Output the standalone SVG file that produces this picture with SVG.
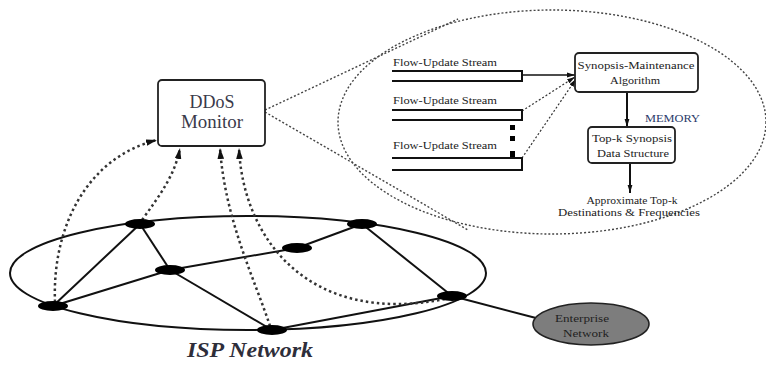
<svg xmlns="http://www.w3.org/2000/svg" width="766" height="365" viewBox="0 0 766 365">
  <style>
    .serif { font-family: "Liberation Serif", "DejaVu Serif", serif; }
    .edge { stroke: #111; stroke-width: 2; fill: none; }
    .report { stroke: #333; stroke-width: 2.5; stroke-dasharray: 2.5 3; fill: none; }
    .zoom { stroke: #444; stroke-width: 1.4; stroke-dasharray: 2 2; fill: none; }
    .pipe { stroke: #111; stroke-width: 2; fill: none; }
    .router { fill: #000; }
    .box { fill: #fff; stroke: #222; stroke-width: 1.8; }
    .small { font-size: 10px; fill: #222; }
  </style>
  <defs>
    <marker id="ah" viewBox="0 0 10 6" refX="10" refY="3" markerWidth="11" markerHeight="7" markerUnits="userSpaceOnUse" orient="auto">
      <path d="M0,0 L10,3 L0,6 z" fill="#111"/>
    </marker>
    <marker id="ahs" viewBox="0 0 10 6" refX="10" refY="3" markerWidth="8" markerHeight="6" markerUnits="userSpaceOnUse" orient="auto">
      <path d="M0,0 L10,3 L0,6 z" fill="#111"/>
    </marker>
  </defs>

  <rect width="766" height="365" fill="#fff"/>

  <!-- magnified view of the monitor internals -->
  <g id="zoom-view">
    <ellipse class="zoom" cx="552" cy="122" rx="214" ry="112"/>
    <line class="zoom" x1="265" y1="110" x2="458" y2="19"/>
    <line class="zoom" x1="265" y1="112" x2="468" y2="230"/>
  </g>

  <!-- ISP backbone ring -->
  <ellipse id="isp-ring" cx="248" cy="273" rx="238" ry="57" fill="none" stroke="#111" stroke-width="2"/>

  <!-- connectors -->
  <g id="connectors">
    <line class="edge" x1="53" y1="306" x2="140" y2="224"/>
    <line class="edge" x1="53" y1="306" x2="170" y2="270"/>
    <line class="edge" x1="140" y1="224" x2="170" y2="270"/>
    <line class="edge" x1="170" y1="270" x2="297" y2="248"/>
    <line class="edge" x1="297" y1="248" x2="362" y2="224"/>
    <line class="edge" x1="170" y1="270" x2="272" y2="330"/>
    <line class="edge" x1="362" y1="224" x2="452" y2="296"/>
    <line class="edge" x1="272" y1="330" x2="452" y2="296"/>
    <line class="edge" x1="452" y1="296" x2="536" y2="318" stroke-width="1.6"/>

    <!-- flow reports to the monitor -->
    <path class="report" d="M55,302 C52,230 85,158 157,140" marker-end="url(#ah)"/>
    <path class="report" d="M142,220 C160,195 175,175 180,148" marker-end="url(#ah)"/>
    <path class="report" d="M270,326 C255,280 225,220 220,148" marker-end="url(#ah)"/>
    <path class="report" d="M445,299 C310,326 243,240 239,148" marker-end="url(#ah)"/>

    <!-- internal data flow -->
    <line x1="522" y1="75" x2="575" y2="75" stroke="#111" stroke-width="1.6" marker-end="url(#ahs)"/>
    <line x1="522" y1="111" x2="575" y2="77" stroke="#333" stroke-width="1.2" stroke-dasharray="2 2" marker-end="url(#ahs)"/>
    <line x1="522" y1="158" x2="576" y2="79" stroke="#333" stroke-width="1.2" stroke-dasharray="2 2" marker-end="url(#ahs)"/>
    <line x1="627" y1="92" x2="627" y2="127" stroke="#111" stroke-width="2" marker-end="url(#ahs)"/>
    <line x1="630" y1="163" x2="630" y2="193" stroke="#111" stroke-width="2" marker-end="url(#ahs)"/>
  </g>

  <!-- routers -->
  <g id="router-1"><ellipse class="router" cx="140" cy="224" rx="15" ry="5"/></g>
  <g id="router-2"><ellipse class="router" cx="362" cy="224" rx="15" ry="5"/></g>
  <g id="router-3"><ellipse class="router" cx="297" cy="248" rx="15" ry="5"/></g>
  <g id="router-4"><ellipse class="router" cx="170" cy="270" rx="15" ry="5"/></g>
  <g id="router-5"><ellipse class="router" cx="53" cy="306" rx="15" ry="5"/></g>
  <g id="router-6"><ellipse class="router" cx="272" cy="330" rx="15" ry="5"/></g>
  <g id="router-7"><ellipse class="router" cx="452" cy="296" rx="15" ry="5"/></g>

  <!-- monitor -->
  <g id="ddos-monitor">
    <rect class="box" x="158" y="80" width="107" height="66" rx="4"/>
    <text class="serif" x="212" y="108" font-size="18" fill="#3a3a4a" text-anchor="middle">DDoS</text>
    <text class="serif" x="212" y="128" font-size="18" fill="#3a3a4a" text-anchor="middle" textLength="62" lengthAdjust="spacingAndGlyphs">Monitor</text>
  </g>

  <!-- enterprise network -->
  <g id="enterprise">
    <ellipse cx="591" cy="324" rx="58" ry="21" fill="#7d7d7d" stroke="#222" stroke-width="1.6"/>
    <text class="serif small" x="582" y="322" text-anchor="middle" textLength="54" lengthAdjust="spacingAndGlyphs">Enterprise</text>
    <text class="serif small" x="586" y="337" text-anchor="middle" textLength="46" lengthAdjust="spacingAndGlyphs">Network</text>
  </g>

  <!-- update streams -->
  <g id="stream-1">
    <path class="pipe" d="M392,71 H522 V81 H392"/>
    <text class="serif small" x="393" y="66" textLength="104" lengthAdjust="spacingAndGlyphs">Flow-Update Stream</text>
  </g>
  <g id="stream-2">
    <path class="pipe" d="M392,110 H522 V120 H392"/>
    <text class="serif small" x="393" y="104" textLength="104" lengthAdjust="spacingAndGlyphs">Flow-Update Stream</text>
  </g>
  <g id="stream-3">
    <path class="pipe" d="M392,158 H522 V170 H392"/>
    <text class="serif small" x="393" y="149" textLength="104" lengthAdjust="spacingAndGlyphs">Flow-Update Stream</text>
    <rect x="510" y="125" width="5" height="5" fill="#000"/>
    <rect x="510" y="136" width="5" height="5" fill="#000"/>
    <rect x="510" y="151" width="5" height="6" fill="#000"/>
  </g>

  <g id="maintenance">
    <rect class="box" x="575" y="53" width="123" height="39" rx="4"/>
    <text class="serif small" x="636" y="69" text-anchor="middle" textLength="117" lengthAdjust="spacingAndGlyphs">Synopsis-Maintenance</text>
    <text class="serif small" x="635" y="84" text-anchor="middle" textLength="50" lengthAdjust="spacingAndGlyphs">Algorithm</text>
  </g>

  <text class="serif" x="645" y="122" font-size="10" fill="#2a3a6a" textLength="55" lengthAdjust="spacingAndGlyphs">MEMORY</text>

  <g id="synopsis">
    <rect class="box" x="588" y="127" width="87" height="36" rx="4"/>
    <text class="serif small" x="632" y="142" text-anchor="middle" textLength="80" lengthAdjust="spacingAndGlyphs">Top-k Synopsis</text>
    <text class="serif small" x="633" y="157" text-anchor="middle" textLength="72" lengthAdjust="spacingAndGlyphs">Data Structure</text>
  </g>

  <g id="output">
    <text class="serif small" x="632" y="204" text-anchor="middle" textLength="91" lengthAdjust="spacingAndGlyphs">Approximate Top-k</text>
    <text class="serif small" x="629" y="216" text-anchor="middle" textLength="142" lengthAdjust="spacingAndGlyphs">Destinations &amp; Frequencies</text>
  </g>

  <text class="serif" x="250" y="357" font-size="22" font-weight="bold" font-style="italic" fill="#2e2e3a" text-anchor="middle" textLength="126" lengthAdjust="spacingAndGlyphs">ISP Network</text>
</svg>
